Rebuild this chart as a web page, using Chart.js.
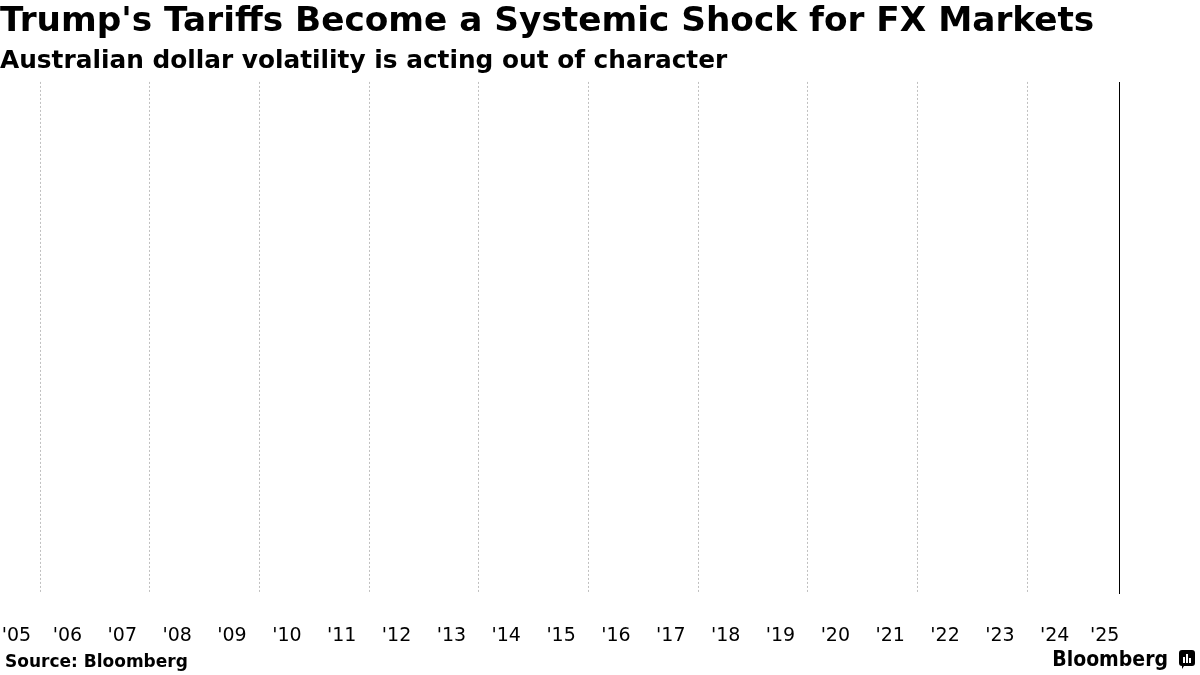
<!DOCTYPE html>
<html>
<head>
<meta charset="utf-8">
<script src="https://cdn.jsdelivr.net/npm/chart.js@4.4.1/dist/chart.umd.min.js"></script>
<style>
  html,body{margin:0;padding:0;background:#fff;}
  #wrap{position:relative;width:1200px;height:675px;}
</style>
</head>
<body>
<div id="wrap"><canvas id="c" width="1200" height="675"></canvas></div>
<script>
// ---- data ----
const titleText = "Trump's Tariffs Become a Systemic Shock for FX Markets";
const subtitleText = "Australian dollar volatility is acting out of character";
const sourceText = "Source: Bloomberg";
const tickYears = [2005,2006,2007,2008,2009,2010,2011,2012,2013,2014,2015,2016,2017,2018,2019,2020,2021,2022,2023,2024,2025];
const tickLabels = ["'05","'06","'07","'08","'09","'10","'11","'12","'13","'14","'15","'16","'17","'18","'19","'20","'21","'22","'23","'24","'25"];
const gridYears = [2006,2008,2010,2012,2014,2016,2018,2020,2022,2024];
const xMin = 2005.27;
const xMax = 2025.69;
const seriesX = [2025.69, 2025.69];
const seriesY = [0, 1];

const FONT = "'DejaVu Sans', sans-serif";
const COND = "'DejaVu Sans Condensed', 'DejaVu Sans', sans-serif";

const footer = {
  id: 'footer',
  afterDraw(chart) {
    const ctx = chart.ctx;
    ctx.save();
    ctx.fillStyle = '#000';
    ctx.textBaseline = 'alphabetic';
    ctx.textAlign = 'left';
    ctx.font = "bold 17px " + FONT;
    ctx.fillText(sourceText, 5, 667);
    ctx.font = "600 21px " + COND;
    ctx.textAlign = 'right';
    ctx.fillText('Bloomberg', 1168, 666);
    // small logo mark
    const x = 1179, y = 650, w = 16, h = 16;
    ctx.beginPath();
    ctx.moveTo(x+3,y); ctx.lineTo(x+w-3,y); ctx.quadraticCurveTo(x+w,y,x+w,y+3);
    ctx.lineTo(x+w,y+h-3); ctx.quadraticCurveTo(x+w,y+h,x+w-3,y+h);
    ctx.lineTo(x+5,y+h); ctx.lineTo(x+3,y+h+3); ctx.lineTo(x+3,y+h);
    ctx.quadraticCurveTo(x,y+h,x,y+h-3); ctx.lineTo(x,y+3); ctx.quadraticCurveTo(x,y,x+3,y);
    ctx.fill();
    ctx.fillStyle = '#fff';
    ctx.fillRect(x+4, y+7, 2, 6);
    ctx.fillRect(x+7, y+4, 2, 9);
    ctx.fillRect(x+10, y+8, 2, 5);
    ctx.restore();
  }
};

new Chart(document.getElementById('c'), {
  type: 'scatter',
  data: {
    datasets: [{
      data: seriesX.map((x, i) => ({x: x, y: seriesY[i]})),
      showLine: true,
      borderColor: '#000',
      borderWidth: 2,
      pointRadius: 0,
      xAxisID: 'xg',
      yAxisID: 'y'
    }]
  },
  plugins: [footer],
  options: {
    responsive: false,
    animation: false,
    devicePixelRatio: 1,
    layout: { padding: { left: 0, right: 80, top: 0, bottom: 0 } },
    plugins: {
      legend: { display: false },
      tooltip: { enabled: false },
      title: {
        display: true, text: titleText, align: 'start', color: '#000',
        font: { family: FONT, size: 34.3, weight: 'bold', lineHeight: 1.2 },
        padding: { top: 2, bottom: 4 }
      },
      subtitle: {
        display: true, text: subtitleText, align: 'start', color: '#000',
        font: { family: FONT, size: 24.8, weight: 'bold', lineHeight: 1.2 },
        padding: { top: 0, bottom: 5 }
      }
    },
    scales: {
      xg: {
        type: 'linear', position: 'bottom', min: xMin, max: xMax,
        afterBuildTicks(axis) { axis.ticks = gridYears.map(v => ({ value: v })); },
        afterFit(axis) { axis.height = 0; axis.paddingLeft = 0; axis.paddingRight = 0; },
        ticks: { display: false },
        grid: { color: '#c0c0c0', lineWidth: 1, drawTicks: false },
        border: { display: false, dash: [2, 2] }
      },
      xl: {
        type: 'linear', position: 'bottom', min: xMin, max: xMax,
        afterBuildTicks(axis) {
          axis.ticks = tickYears.map(y => ({ value: Math.min(Math.max(y + 0.5, xMin + 0.3), xMax - 0.28) }));
        },
        afterFit(axis) { axis.height = 81; axis.paddingLeft = 0; axis.paddingRight = 0; },
        ticks: {
          color: '#000', font: { family: FONT, size: 19 }, padding: 31, maxRotation: 0, autoSkip: false,
          callback(value, index) { return tickLabels[index]; }
        },
        grid: { display: false, drawTicks: false },
        border: { display: false }
      },
      y: { display: false, min: 0, max: 1 }
    }
  }
});
</script>
</body>
</html>
